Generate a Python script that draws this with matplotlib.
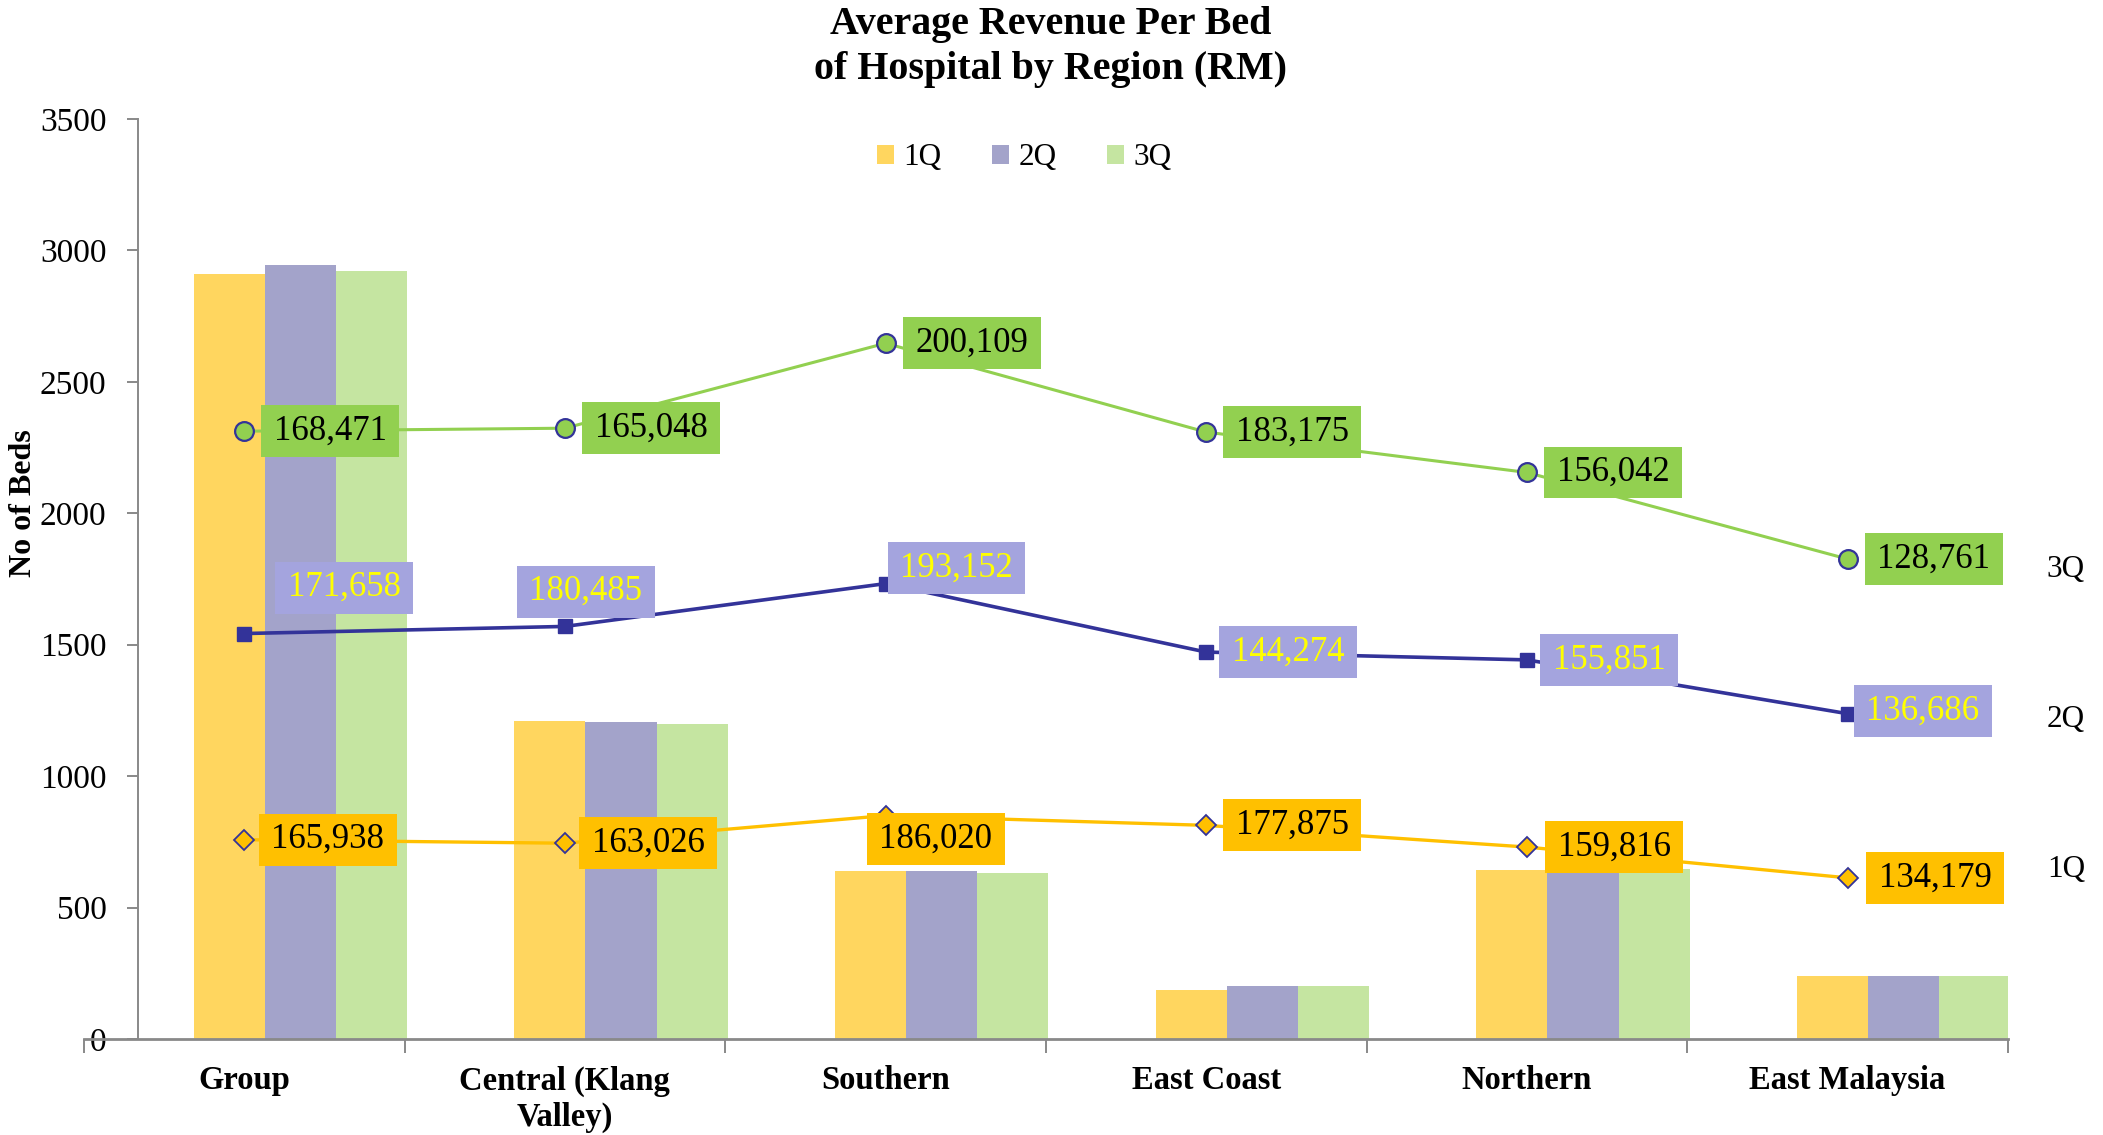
import matplotlib
matplotlib.use("Agg")
import matplotlib.pyplot as plt
import numpy as np
from matplotlib.patches import Patch
from matplotlib.path import Path

plt.rcParams["font.family"] = ["Liberation Serif", "DejaVu Serif"]

# ---- data ----
regions = ["Group", "Central (Klang\nValley)", "Southern", "East Coast", "Northern", "East Malaysia"]
quarters = ["1Q", "2Q", "3Q"]

beds_1q = [2910, 1210, 639, 185, 643, 238]
beds_2q = [2944, 1205, 639, 201, 645, 238]
beds_3q = [2921, 1199, 632, 201, 647, 238]

rev_1q = [165938, 163026, 186020, 177875, 159816, 134179]
rev_2q = [171658, 180485, 193152, 144274, 155851, 136686]
rev_3q = [168471, 165048, 200109, 183175, 156042, 128761]

# ---- styling ----
bar_colors = ["#FFD65F", "#A3A3CA", "#C5E5A1"]
line_colors = ["#FFC000", "#333399", "#92D050"]
box_colors = ["#FFC000", "#A4A4DE", "#92D050"]
text_colors = ["black", "#FFFF00", "black"]
axis_grey = "#898989"

# label offsets (points) relative to each marker
off_1q = [(60, 0), (60, 0), (36, -17), (62, 0), (63, 0), (63, 0)]
off_2q = [(72, 33), (15, 25), (51, 11), (59, 0), (59, 0), (54, 2)]
off_3q = [(62, 0), (62, 0), (62, 0), (62, 0), (62, 0), (62, 0)]


class PadBox:
    """Rectangular label box with separate horizontal / vertical padding."""

    def __init__(self, padx, pady):
        self.padx = padx
        self.pady = pady

    def __call__(self, x0, y0, width, height, mutation_size):
        px = self.padx * mutation_size
        py = self.pady * mutation_size
        x0, y0 = x0 - px, y0 - py
        x1, y1 = x0 + width + 2 * px, y0 + height + 2 * py
        return Path([(x0, y0), (x1, y0), (x1, y1), (x0, y1), (x0, y0)], closed=True)


fig = plt.figure(figsize=(21.03, 11.35), dpi=100)
ax = fig.add_axes([0.0399, 0.08458, 0.9149, 0.81057])

x = np.arange(len(regions))
bw = 0.222
# the bar cluster sits against the right-hand category boundary
cluster_shift = 0.508 - 1.5 * bw
for i, (vals, col) in enumerate(zip([beds_1q, beds_2q, beds_3q], bar_colors)):
    ax.bar(x + cluster_shift + (i - 1) * bw, vals, width=bw, color=col, edgecolor="none", zorder=2)

ax.set_xlim(-0.5, len(regions) - 0.5)
ax.set_ylim(0, 3500)

# axes styling
for s in ["top", "right"]:
    ax.spines[s].set_visible(False)
ax.spines["left"].set_position(("data", -0.33))
ax.spines["left"].set_color(axis_grey)
ax.spines["left"].set_linewidth(1.4)
ax.spines["bottom"].set_color(axis_grey)
ax.spines["bottom"].set_linewidth(2.0)

ax.set_yticks(np.arange(0, 3501, 500))
ax.set_yticklabels([str(v) for v in range(0, 3501, 500)], fontsize=24)
ax.tick_params(axis="y", colors=axis_grey, labelcolor="black", length=8, width=1.4, pad=15)

ax.set_xticks(x)
ax.set_xticklabels(regions, fontsize=23.5, fontweight="bold")
ax.tick_params(axis="x", which="major", length=0, pad=19)
ax.set_xticks(np.arange(-0.5, len(regions), 1.0), minor=True)
ax.tick_params(axis="x", which="minor", length=10, width=1.4, color=axis_grey, direction="out")
for lab in ax.get_xticklabels():
    lab.set_linespacing(1.2)

# ---- stacked revenue lines on a hidden secondary axis ----
ax2 = ax.twinx()
ax2.set_ylim(0, 766000)
ax2.axis("off")

rev = [np.array(rev_1q), np.array(rev_2q), np.array(rev_3q)]
cum = np.cumsum(np.vstack(rev), axis=0)

marker_kw = [
    dict(marker="D", ms=10, mfc=line_colors[0], mec="#333399", mew=1.3, lw=2.4),
    dict(marker="s", ms=10.5, mfc="#333399", mec="#333399", mew=1.0, lw=2.6),
    dict(marker="o", ms=13.5, mfc=line_colors[2], mec="#333399", mew=1.6, lw=2.2),
]
offsets = [off_1q, off_2q, off_3q]

for q in range(3):
    ax2.plot(x, cum[q], color=line_colors[q], zorder=3, **marker_kw[q])
    for j in range(len(regions)):
        ax2.annotate(
            f"{rev[q][j]:,}",
            xy=(x[j], cum[q][j]),
            xytext=offsets[q][j],
            textcoords="offset points",
            ha="center",
            va="center",
            fontsize=25,
            color=text_colors[q],
            zorder=5,
            bbox=dict(boxstyle=PadBox(0.36, 0.27), fc=box_colors[q], ec="none"),
        )

# ---- legend, titles ----
handles = [Patch(facecolor=c, edgecolor="none") for c in bar_colors]
fig.legend(
    handles, quarters, loc="center", bbox_to_anchor=(0.487, 0.861), ncol=3,
    frameon=False, fontsize=22.5, handlelength=0.55, handleheight=0.55,
    handletextpad=0.3, columnspacing=1.6,
)

fig.text(0.4995, 1 - 47 / 1135, "Average Revenue Per Bed\nof Hospital by Region (RM)",
         ha="center", va="center", fontsize=28.8, fontweight="bold", linespacing=1.3)

fig.text(24 / 2103, 1 - 503 / 1135, "No of Beds", rotation=90, ha="center", va="center",
         fontsize=23, fontweight="bold")

for name, ypix in zip(quarters, [869, 719, 569]):
    fig.text(2066 / 2103, 1 - ypix / 1135, name, ha="center", va="center", fontsize=22.5)

fig.savefig("out.png", dpi=100)
